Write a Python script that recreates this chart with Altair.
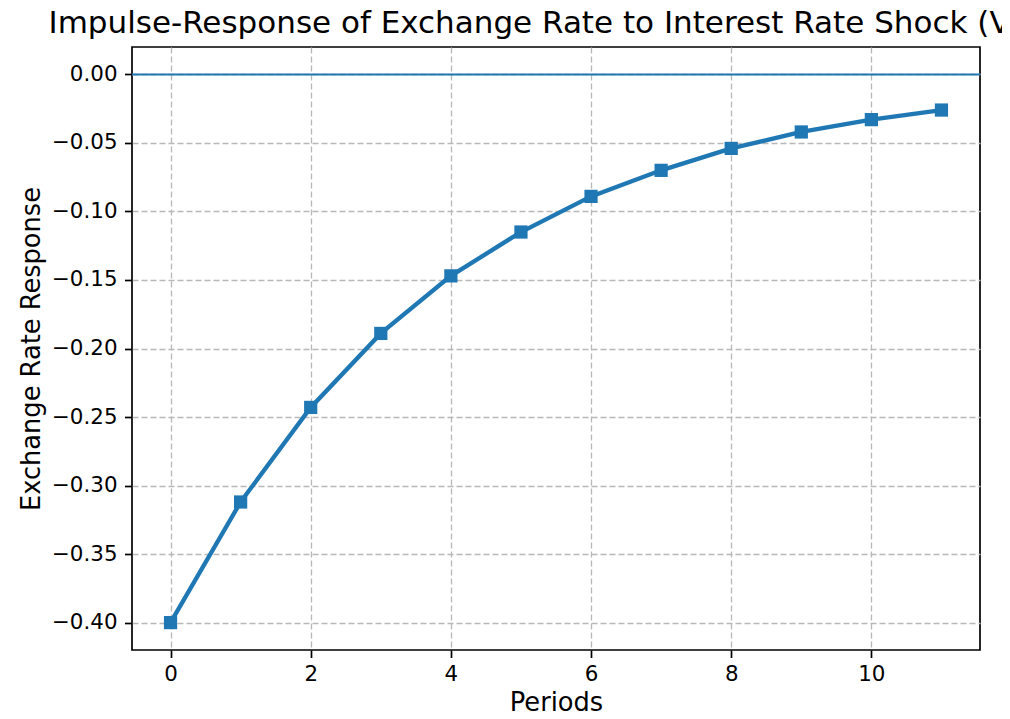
import altair as alt
import pandas as pd

periods = [0, 1, 2, 3, 4, 5, 6, 7, 8, 9, 10, 11]
response = [-0.400, -0.312, -0.243, -0.189, -0.147, -0.115, -0.089, -0.070, -0.054, -0.042, -0.033, -0.026]
baseline = [0.0]

title_text = "Impulse-Response of Exchange Rate to Interest Rate Shock (VAR)"
x_label = "Periods"
y_label = "Exchange Rate Response"
x_ticks = [0, 2, 4, 6, 8, 10]
y_ticks = [-0.40, -0.35, -0.30, -0.25, -0.20, -0.15, -0.10, -0.05, 0.00]

df = pd.DataFrame({"period": periods, "response": response})
df0 = pd.DataFrame({"y": baseline})

BLUE = "#1f77b4"
FONT = "DejaVu Sans"

xscale = alt.Scale(domain=[-0.55, 11.55], nice=False, zero=False)
yscale = alt.Scale(domain=[-0.42, 0.02], nice=False, zero=False)

xaxis = alt.Axis(
    title=x_label, values=x_ticks, format="d",
    grid=True, gridColor="#b8b8b8", gridDash=[6, 3], gridWidth=1.3,
    domain=False, tickColor="black", tickSize=7.5, tickWidth=1.7,
    labelPadding=6, labelFontSize=21.4, labelFont=FONT, labelColor="black",
    titleFontSize=25.7, titleFont=FONT, titleFontWeight="normal", titleColor="black",
    titlePadding=6,
)
yaxis = alt.Axis(
    title=y_label, values=y_ticks, format=".2f",
    grid=True, gridColor="#b8b8b8", gridDash=[6, 3], gridWidth=1.3,
    domain=False, tickColor="black", tickSize=7.5, tickWidth=1.7,
    labelPadding=7.5, labelFontSize=21.4, labelFont=FONT, labelColor="black",
    titleFontSize=25.7, titleFont=FONT, titleFontWeight="normal", titleColor="black",
    titlePadding=7,
)

zero_line = alt.Chart(df0).mark_rule(color=BLUE, strokeWidth=2).encode(
    y=alt.Y("y:Q", scale=yscale, axis=yaxis)
)

line = alt.Chart(df).mark_line(color=BLUE, strokeWidth=4.3).encode(
    x=alt.X("period:Q", scale=xscale, axis=xaxis),
    y=alt.Y("response:Q", scale=yscale, axis=yaxis),
)

pts = alt.Chart(df).mark_point(shape="square", filled=True, size=175, color=BLUE, opacity=1).encode(
    x=alt.X("period:Q", scale=xscale),
    y=alt.Y("response:Q", scale=yscale),
)

chart = alt.layer(zero_line, line, pts).properties(
    width=848,
    height=603,
    title=alt.TitleParams(
        text=title_text, fontSize=31, font=FONT, fontWeight="normal",
        anchor="middle", frame="group", offset=7, color="black",
    ),
    autosize=alt.AutoSizeParams(type="none"),
    padding={"left": 124, "top": 39, "right": 22, "bottom": 61},
    background="white",
).configure_view(
    stroke="black", strokeWidth=1.7
)

chart.save("out.html", embed_options={"renderer": "svg", "actions": False})
